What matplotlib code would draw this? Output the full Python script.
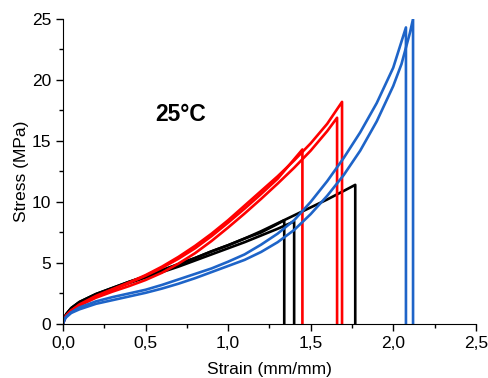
import matplotlib
matplotlib.use('Agg')
import matplotlib.pyplot as plt
from matplotlib.ticker import MultipleLocator, FuncFormatter

plt.rcParams['font.family'] = ['Liberation Sans', 'DejaVu Sans']

# Datos (strain, stress)
black_1_x = [0, 0.01, 0.02, 0.05, 0.1, 0.2, 0.3, 0.4, 0.5, 0.6, 0.7, 0.8, 0.9, 1.0, 1.1, 1.2, 1.3, 1.4, 1.5, 1.6, 1.7, 1.77]
black_1_y = [0, 0.5, 0.8, 1.3, 1.8, 2.45, 2.95, 3.45, 3.9, 4.4, 4.9, 5.4, 5.95, 6.45, 7.0, 7.6, 8.25, 8.9, 9.55, 10.2, 10.9, 11.4]
black_2_x = [0, 0.01, 0.02, 0.05, 0.1, 0.2, 0.3, 0.4, 0.5, 0.6, 0.7, 0.8, 0.9, 1.0, 1.1, 1.2, 1.3, 1.4]
black_2_y = [0, 0.5, 0.8, 1.25, 1.75, 2.4, 2.9, 3.35, 3.8, 4.25, 4.7, 5.2, 5.7, 6.2, 6.7, 7.25, 7.8, 8.4]
black_3_x = [0, 0.01, 0.02, 0.05, 0.1, 0.2, 0.3, 0.4, 0.5, 0.6, 0.7, 0.8, 0.9, 1.0, 1.1, 1.2, 1.3, 1.34]
black_3_y = [0, 0.5, 0.8, 1.3, 1.8, 2.45, 2.95, 3.45, 3.9, 4.4, 4.9, 5.4, 5.95, 6.45, 7.0, 7.5, 8.2, 8.5]

red_1_x = [0, 0.01, 0.02, 0.05, 0.1, 0.2, 0.3, 0.4, 0.5, 0.6, 0.7, 0.8, 0.9, 1.0, 1.1, 1.2, 1.3, 1.4, 1.5, 1.6, 1.69]
red_1_y = [0, 0.45, 0.7, 1.1, 1.6, 2.3, 2.85, 3.4, 4.0, 4.7, 5.5, 6.4, 7.4, 8.5, 9.7, 10.9, 12.1, 13.4, 14.8, 16.4, 18.2]
red_2_x = [0, 0.01, 0.02, 0.05, 0.1, 0.2, 0.3, 0.4, 0.5, 0.6, 0.7, 0.8, 0.9, 1.0, 1.1, 1.2, 1.3, 1.4, 1.5, 1.6, 1.66]
red_2_y = [0, 0.4, 0.65, 1.05, 1.5, 2.15, 2.65, 3.1, 3.6, 4.2, 4.95, 5.8, 6.8, 7.9, 9.05, 10.25, 11.5, 12.8, 14.2, 15.8, 16.9]
red_3_x = [0, 0.01, 0.02, 0.05, 0.1, 0.2, 0.3, 0.4, 0.5, 0.6, 0.7, 0.8, 0.9, 1.0, 1.1, 1.2, 1.3, 1.4, 1.45]
red_3_y = [0, 0.45, 0.7, 1.1, 1.55, 2.25, 2.8, 3.35, 3.95, 4.6, 5.35, 6.2, 7.2, 8.3, 9.45, 10.65, 11.9, 13.5, 14.3]

blue_1_x = [0, 0.01, 0.02, 0.05, 0.1, 0.2, 0.3, 0.4, 0.5, 0.6, 0.7, 0.8, 0.9, 1.0, 1.1, 1.2, 1.3, 1.4, 1.5, 1.6, 1.7, 1.8, 1.9, 2.0, 2.077]
blue_1_y = [0, 0.4, 0.6, 0.95, 1.35, 1.85, 2.2, 2.5, 2.8, 3.2, 3.65, 4.1, 4.55, 5.1, 5.7, 6.5, 7.4, 8.5, 10.0, 11.7, 13.6, 15.7, 18.1, 21.0, 24.3]
blue_2_x = [0, 0.01, 0.02, 0.05, 0.1, 0.2, 0.3, 0.4, 0.5, 0.6, 0.7, 0.8, 0.9, 1.0, 1.1, 1.2, 1.3, 1.4, 1.5, 1.6, 1.7, 1.8, 1.9, 2.0, 2.05, 2.1, 2.12]
blue_2_y = [0, 0.35, 0.55, 0.9, 1.2, 1.65, 1.95, 2.25, 2.55, 2.9, 3.3, 3.75, 4.25, 4.75, 5.25, 5.9, 6.7, 7.7, 9.0, 10.5, 12.2, 14.2, 16.6, 19.5, 21.3, 23.8, 25.0]

red = '#FF0000'
blue = '#1E64C8'

curves = [
    (black_3_x, black_3_y, 'black'),
    (black_2_x, black_2_y, 'black'),
    (black_1_x, black_1_y, 'black'),
    (red_3_x, red_3_y, red),
    (red_2_x, red_2_y, red),
    (red_1_x, red_1_y, red),
    (blue_1_x, blue_1_y, blue),
    (blue_2_x, blue_2_y, blue),
]

fig = plt.figure(figsize=(4.88, 3.78), dpi=100)
ax = fig.add_axes([0.129, 0.143, 0.846, 0.807])

for xs, ys, c in curves:
    # caida vertical en la rotura
    ax.plot(xs + [xs[-1]], ys + [0], color=c, lw=1.9)

ax.set_xlim(0, 2.5)
ax.set_ylim(0, 25)
ax.xaxis.set_major_locator(MultipleLocator(0.5))
ax.xaxis.set_minor_locator(MultipleLocator(0.25))
ax.yaxis.set_major_locator(MultipleLocator(5))
ax.yaxis.set_minor_locator(MultipleLocator(2.5))
ax.xaxis.set_major_formatter(FuncFormatter(lambda v, p: f'{v:.1f}'.replace('.', ',')))
ax.spines['top'].set_visible(False)
ax.spines['right'].set_visible(False)
ax.tick_params(which='major', direction='out', length=5, width=1, labelsize=12.5)
ax.tick_params(which='minor', direction='out', length=3, width=1)

ax.set_xlabel('Strain (mm/mm)', fontsize=12.5, labelpad=8)
ax.set_ylabel('Stress (MPa)', fontsize=12.5, labelpad=2)
ax.text(0.714, 17.2, '25°C', fontsize=16.5, fontweight='bold', ha='center', va='center')

fig.savefig('out.png', dpi=100)
